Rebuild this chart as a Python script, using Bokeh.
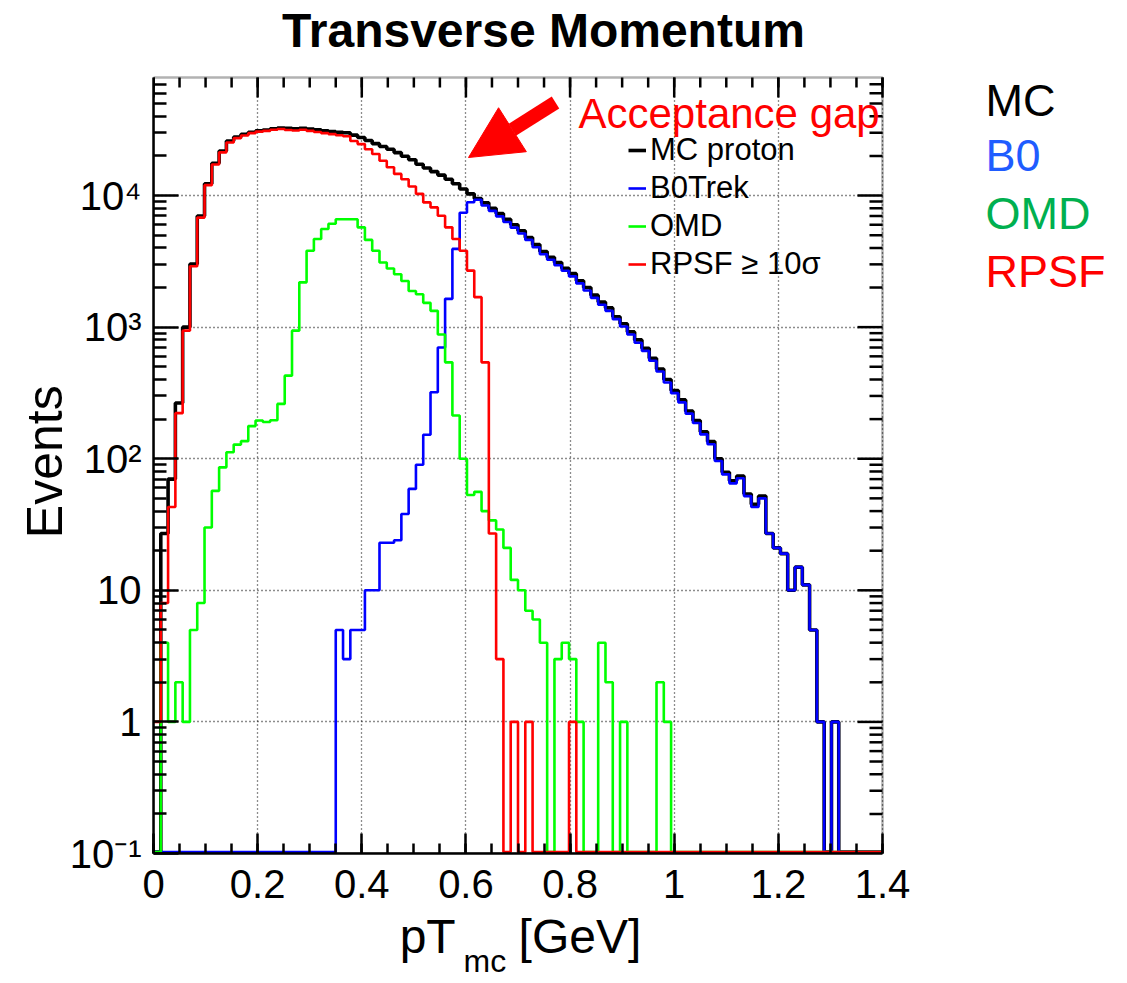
import numpy as np
from bokeh.plotting import figure
from bokeh.models import (Range1d, LinearAxis, Label, Arrow, NormalHead,
                          Legend, LegendItem, FixedTicker, BoxAnnotation)
from bokeh.embed import file_html
from bokeh.resources import INLINE

# ---------------- data (100 bins, 0 .. 1.4 GeV) ----------------
bin_lo, bin_hi, n_bins = 0.0, 1.4, 100

mc_proton = [0, 27, 70, 265, 1000, 3020, 7000, 12300, 17600, 21800,
             26000, 27800, 29200, 30300, 31000, 31500, 32200, 32600, 32400, 32200,
             32400, 32000, 31600, 31000, 30600, 30300, 30000, 28800, 27600, 26200,
             24800, 23600, 22500, 21200, 19900, 18700, 17300, 16200, 15200, 14300,
             13300, 12300, 11200, 10300, 9500, 8800, 8000, 7300, 6600, 6000,
             5400, 4800, 4250, 3750, 3400, 3100, 2800, 2550, 2250, 2000,
             1750, 1550, 1400, 1200, 1060, 920, 800, 690, 580, 480,
             400, 330, 280, 230, 195, 160, 135, 100, 79, 68,
             74, 54, 45, 52, 27, 21, 19, 10, 15, 11,
             5, 1, 0, 1, 0, 0, 0, 0, 0, 0]

b0trek = [0, 0, 0, 0, 0, 0, 0, 0, 0, 0,
          0, 0, 0, 0, 0, 0, 0, 0, 0, 0,
          0, 0, 0, 0, 0, 5, 3, 5, 5, 10,
          10, 23, 23, 24, 38, 59, 90, 152, 320, 700,
          1640, 3930, 7400, 8900, 9300, 8400, 7650, 6950, 6300, 5700,
          5150, 4600, 4050, 3580, 3250, 2950, 2680, 2430, 2150, 1900,
          1670, 1480, 1330, 1150, 1010, 880, 760, 660, 555, 460,
          380, 315, 268, 220, 187, 153, 129, 96, 76, 65,
          71, 52, 43, 50, 27, 21, 19, 10, 15, 11,
          5, 1, 0, 1, 0, 0, 0, 0, 0, 0]

omd = [0, 4, 1, 2, 1, 5, 8, 30, 57, 86,
       112, 128, 136, 177, 195, 190, 196, 261, 428, 940,
       2190, 3810, 4680, 5570, 6100, 6600, 6600, 6600, 5730, 4600,
       3810, 3100, 2790, 2520, 2240, 1880, 1780, 1530, 1330, 880,
       540, 213, 100, 53, 56, 40, 34, 29, 21, 12,
       10, 7, 6, 4, 0, 3, 4, 3, 1, 0,
       0, 4, 2, 0, 1, 0, 0, 0, 0, 2,
       1, 0, 0, 0, 0, 0, 0, 0, 0, 0,
       0, 0, 0, 0, 0, 0, 0, 0, 0, 0,
       0, 0, 0, 0, 0, 0, 0, 0, 0, 0]

rpsf = [1, 8, 43, 222, 940, 2900, 6800, 12000, 17200, 21300,
        25300, 27300, 28600, 29800, 30600, 31000, 31600, 32000, 31500, 31200,
        31600, 31000, 30400, 29800, 29300, 28700, 28200, 26000, 24600, 22500,
        20700, 18400, 16400, 14600, 13300, 11700, 10300, 8870, 8130, 7030,
        5730, 4680, 3810, 2690, 1690, 540, 27, 3, 0, 1,
        0, 1, 0, 0, 0, 0, 0, 1, 0, 0,
        0, 0, 0, 0, 0, 0, 0, 0, 0, 0,
        0, 0, 0, 0, 0, 0, 0, 0, 0, 0,
        0, 0, 0, 0, 0, 0, 0, 0, 0, 0,
        0, 0, 0, 0, 0, 0, 0, 0, 0, 0]

series_names = ["MC proton", "B0Trek", "OMD", "RPSF \u2265 10\u03c3"]
series_colors = ["#000000", "#0000ff", "#00ff00", "#ff0000"]
side_names = ["MC", "B0", "OMD", "RPSF"]
side_colors = ["#000000", "#1f5cff", "#00b050", "#ff0000"]
title_text = "Transverse Momentum"

x_ticks = [0, 0.2, 0.4, 0.6, 0.8, 1.0, 1.2, 1.4]
x_tick_labels = ["0", "0.2", "0.4", "0.6", "0.8", "1", "1.2", "1.4"]
y_ticks = [0.1, 1, 10, 100, 1000, 10000]
y_tick_labels = ["10\u207b\u00b9", "1", "10", "10\u00b2", "10\u00b3", "10\u2074"]

# ---------------- layout ----------------
W, H = 1127, 983
FX0, FX1, FY0, FY1 = 153, 882, 77, 853   # histogram box in pixels (left, right, top, bottom)
YMIN, YMAX = 0.1, 78900.0
FONT = "Liberation Sans"

lymin, lymax = np.log10(YMIN), np.log10(YMAX)
PX_PER_DECADE = (FY1 - FY0) / (lymax - lymin)
# the frame reaches the right and top edges of the canvas, so that the side
# labels and the title can be drawn; the histogram box is 0..1.4 x 0.1..YMAX
X_END = bin_hi * (W - FX0) / (FX1 - FX0)
Y_END = 10 ** (lymin + FY1 / PX_PER_DECADE)
FLOOR = YMIN * 10 ** (1.5 / PX_PER_DECADE)   # empty bins are drawn on the box floor


def px_x(px):
    return bin_lo + (px - FX0) / (FX1 - FX0) * (bin_hi - bin_lo)


def px_y(py):
    return 10 ** (lymin + (FY1 - py) / PX_PER_DECADE)


p = figure(width=W, height=H, x_range=Range1d(bin_lo, X_END), y_range=Range1d(YMIN, Y_END),
           y_axis_type="log", output_backend="svg", toolbar_location=None, title=None,
           min_border_left=FX0, min_border_right=0, min_border_top=0,
           min_border_bottom=H - FY1)
p.background_fill_color = "white"
p.border_fill_color = "white"
p.outline_line_color = None

minor_x = [round(v, 3) for v in np.arange(0, 1.4001, 0.05)]
minor_y = [m * 10.0 ** e for e in range(-1, 5) for m in range(2, 10) if m * 10.0 ** e <= YMAX]

xt = FixedTicker(ticks=x_ticks, minor_ticks=minor_x)
yt = FixedTicker(ticks=y_ticks, minor_ticks=minor_y)

AXW = 2.5
NB = "\u00a0"
xax = p.xaxis[0]
xax.ticker = xt
xax.bounds = (bin_lo, bin_hi)
xax.major_label_overrides = {t: l for t, l in zip(x_ticks, x_tick_labels)}
xax.major_label_text_font = FONT
xax.major_label_text_font_size = "40px"
xax.major_label_text_color = "black"
xax.major_label_standoff = 16
xax.axis_label = "pT" + NB * 4 + "\u2009" + "[GeV]" + NB * 18
xax.axis_label_text_font = FONT
xax.axis_label_text_font_size = "48px"
xax.axis_label_text_font_style = "normal"
xax.axis_label_text_color = "black"
xax.axis_label_standoff = 9
xax.major_tick_in = 20
xax.minor_tick_in = 10

yax = p.yaxis[0]
yax.ticker = yt
yax.bounds = (YMIN, YMAX)
yax.major_label_overrides = {t: l for t, l in zip(y_ticks, y_tick_labels)}
yax.major_label_text_font = FONT
yax.major_label_text_font_size = "40px"
yax.major_label_text_color = "black"
yax.major_label_standoff = 12
yax.axis_label = "Events" + NB * 5
yax.axis_label_text_font = FONT
yax.axis_label_text_font_size = "50px"
yax.axis_label_text_font_style = "normal"
yax.axis_label_text_color = "black"
yax.axis_label_standoff = -6
yax.major_tick_in = 25
yax.minor_tick_in = 13

for ax in (xax, yax):
    ax.axis_line_width = AXW
    ax.major_tick_line_width = AXW
    ax.minor_tick_line_width = AXW
    ax.major_tick_out = 0
    ax.minor_tick_out = 0

# second (empty) bottom axis that only carries the subscript of the x title
sub_ax = LinearAxis(ticker=FixedTicker(ticks=[]), axis_line_color=None, major_tick_line_color=None,
                    minor_tick_line_color=None, major_label_text_font_size="0px",
                    major_label_standoff=0,
                    axis_label="mc" + NB * 35, axis_label_text_font=FONT,
                    axis_label_text_font_size="32px", axis_label_text_font_style="normal",
                    axis_label_text_color="black", axis_label_standoff=-23)
p.add_layout(sub_ax, "below")

# grid only inside the histogram box
p.xgrid.ticker = xt
p.ygrid.ticker = yt
for g in (p.xgrid[0], p.ygrid[0]):
    g.grid_line_color = "black"
    g.grid_line_dash = "1 3"
    g.grid_line_width = 1.3
    g.grid_line_alpha = 0.9
try:
    p.ygrid[0].cross_bounds = (bin_lo, bin_hi)
    p.xgrid[0].cross_bounds = (YMIN, YMAX)
except Exception:
    p.add_layout(BoxAnnotation(left=bin_hi, fill_color="white", fill_alpha=1.0,
                               line_color=None, level="underlay"))
    p.add_layout(BoxAnnotation(bottom=YMAX, fill_color="white", fill_alpha=1.0,
                               line_color=None, level="underlay"))

# top and right edges of the histogram box, with inward ticks
p.add_layout(BoxAnnotation(left=bin_lo, right=bin_hi, bottom=YMIN, top=YMAX,
                           fill_color=None, fill_alpha=0, line_color="black", line_width=AXW))
p.ray(x=[bin_hi] * len(y_ticks), y=y_ticks, length=25, angle=np.pi, length_units="screen",
      line_color="black", line_width=AXW)
p.ray(x=[bin_hi] * len(minor_y), y=minor_y, length=13, angle=np.pi, length_units="screen",
      line_color="black", line_width=AXW)
p.ray(x=x_ticks, y=[YMAX] * len(x_ticks), length=20, angle=-np.pi / 2, length_units="screen",
      line_color="black", line_width=AXW)
p.ray(x=minor_x, y=[YMAX] * len(minor_x), length=10, angle=-np.pi / 2, length_units="screen",
      line_color="black", line_width=AXW)

# ---------------- histograms ----------------
edges = np.linspace(bin_lo, bin_hi, n_bins + 1)
renderers = []
for vals, col, lw in zip([mc_proton, b0trek, omd, rpsf], series_colors, [3.6, 2.6, 2.6, 2.6]):
    v = np.asarray(vals, dtype=float)
    v = np.where(v > 0, v, FLOOR)
    ys = np.append(v, v[-1])
    r = p.step(edges, ys, mode="after", line_color=col, line_width=lw)
    renderers.append(r)

legend = Legend(items=[LegendItem(label=n, renderers=[r]) for n, r in zip(series_names, renderers)],
                location=(475, 570), background_fill_alpha=0, border_line_color=None,
                label_text_font=FONT, label_text_font_size="31px", label_text_color="black",
                glyph_width=18, glyph_height=38, label_height=38, spacing=0, padding=0,
                margin=0, label_standoff=4)
p.add_layout(legend, "center")


# ---------------- texts inside the frame ----------------
def add_label(text, xpx, ypx, size, color="black", align="left", baseline="middle",
              style="normal"):
    p.add_layout(Label(x=px_x(xpx), y=px_y(ypx), text=text, text_font=FONT,
                       text_font_size=f"{size}px", text_color=color, text_align=align,
                       text_baseline=baseline, text_font_style=style))


add_label(title_text, 543, 30, 48, align="center", style="bold")

for n, c, yc in zip(side_names, side_colors, [100, 155, 213, 271]):
    add_label(n, 985, yc, 45, color=c)

add_label("Acceptance gap", 578, 113, 42, color="#ff0000")

p.add_layout(Arrow(end=NormalHead(size=52, fill_color="#ff0000", line_color="#ff0000"),
                   x_start=px_x(555), y_start=px_y(102), x_end=px_x(468), y_end=px_y(157),
                   line_color="#ff0000", line_width=14))

open("out.html", "w").write(file_html(p, INLINE))
